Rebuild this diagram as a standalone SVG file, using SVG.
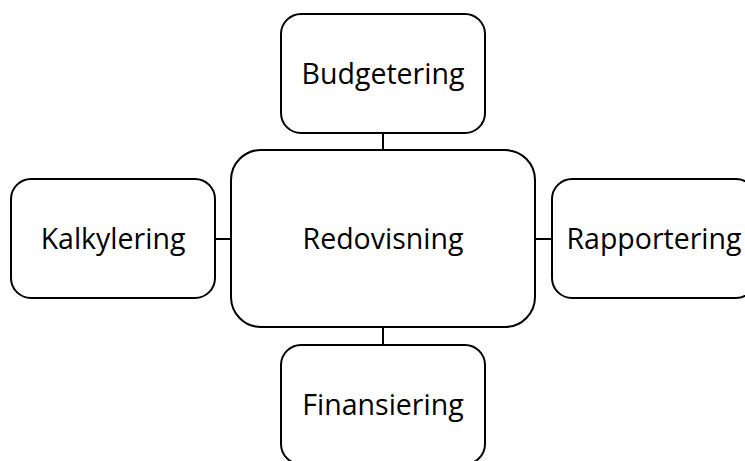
<svg xmlns="http://www.w3.org/2000/svg" width="745" height="461" viewBox="0 0 745 461">
<style>
.box{fill:#fff;stroke:#000;stroke-width:2}
.lbl{font-family:"Open Sans","Noto Sans",sans-serif;font-size:28.5px;fill:#000;text-anchor:middle;dominant-baseline:central}
.con{stroke:#000;stroke-width:2;fill:none}
</style>
<rect width="745" height="461" fill="#fff"/>
<g id="connectors">
<line class="con" x1="383" y1="133" x2="383" y2="150"/>
<line class="con" x1="383" y1="327" x2="383" y2="345"/>
<line class="con" x1="215" y1="239" x2="231" y2="239"/>
<line class="con" x1="535" y1="239" x2="552" y2="239"/>
</g>
<g id="budgetering">
<rect class="box" x="281" y="14" width="204" height="119" rx="20"/>
<text class="lbl" x="383" y="73">Budgetering</text>
</g>
<g id="redovisning">
<rect class="box" x="231" y="150" width="304" height="177" rx="30"/>
<text class="lbl" x="383" y="238">Redovisning</text>
</g>
<g id="kalkylering">
<rect class="box" x="11" y="179" width="204" height="119" rx="20"/>
<text class="lbl" x="113" y="238">Kalkylering</text>
</g>
<g id="rapportering">
<rect class="box" x="552" y="179" width="204" height="119" rx="20"/>
<text class="lbl" x="654" y="238">Rapportering</text>
</g>
<g id="finansiering">
<rect class="box" x="281" y="345" width="204" height="119" rx="20"/>
<text class="lbl" x="383" y="404">Finansiering</text>
</g>
</svg>
